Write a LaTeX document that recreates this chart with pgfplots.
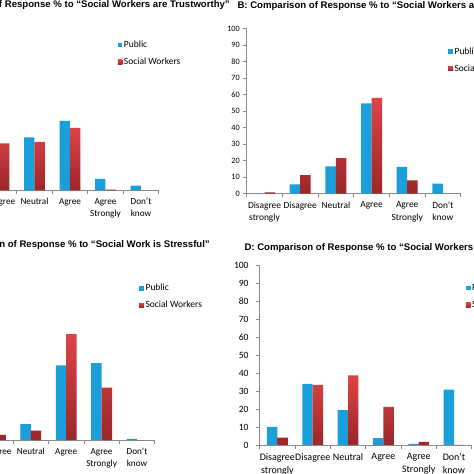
\documentclass[border=0pt]{standalone}
\usepackage{fontspec}
\setmainfont{Carlito}
\newfontfamily\titlefont{Liberation Sans}
\usepackage{pgfplots}
\pgfplotsset{compat=1.18}
\definecolor{pubblue}{HTML}{1B9FDA}
\definecolor{swtop}{HTML}{DE4446}
\definecolor{swbot}{HTML}{9C2628}
\definecolor{axisgray}{HTML}{8A8A8A}
\pgfplotsset{
  panel/.style={
    ybar, bar width=0.295,
    scale only axis,
    xmin=-0.5, xmax=5.5, ymin=0, ymax=100,
    axis x line*=bottom, axis y line*=left,
    axis line style={draw=axisgray, line width=0.7pt},
    xtick={0,...,5},
    xticklabels={Disagree\\strongly, Disagree, Neutral, Agree, Agree\\Strongly, Don’t\\know},
    major x tick style={draw=none},
    minor xtick={-0.5,0.5,...,5.5},
    minor x tick style={draw=axisgray, line width=0.7pt},
    minor tick length=3.5pt,
    major tick length=3.5pt,
    tick align=outside,
    ytick={0,10,...,100},
    y tick style={draw=axisgray, line width=0.7pt},
    x tick label style={align=center, anchor=north, inner sep=0pt, yshift=-4.5pt},
    y tick label style={anchor=east, inner sep=0pt, xshift=-3.2pt},
    /pgf/number format/assume math mode=true,
    legend image code/.code={\fill[##1] (0pt,-2.3pt) rectangle (4.6pt,2.3pt);},
    legend style={draw=none, fill=none, anchor=north west, inner sep=0pt,
      nodes={inner sep=0pt, anchor=west, text height=5pt, text depth=0pt},
      row sep=12pt, column sep=1.5pt},
    legend cell align=left,
  },
  pub/.style={draw=none, fill=pubblue, bar shift=-0.1475},
  sw/.style={draw=none, top color=swtop, bottom color=swbot, bar shift=0.1475},
}
\begin{document}
\begin{tikzpicture}[x=1pt,y=1pt]
\begin{scope}
\clip (0,0) rectangle (474,474);
% ---------------- A ----------------
\begin{axis}[panel, at={(-54.25pt,283.7pt)}, anchor=south west,
  width=213pt, height=165pt,
  x tick label style={font=\fontsize{9.2}{12}\selectfont},
  y tick label style={font=\fontsize{8.2}{10}\selectfont},
  legend style={at={(axis description cs:0.807,0.897)}, font=\fontsize{9.5}{11}\selectfont}]
\addplot[pub] coordinates {(0,4) (1,12.5) (2,32) (3,42) (4,6.9) (5,2.8)};
\addplot[sw] coordinates {(0,3) (1,28.5) (2,29.3) (3,37.9) (4,0.4) (5,0)};
\legend{Public, Social Workers}
\end{axis}
% ---------------- B ----------------
\begin{axis}[panel, at={(246.7pt,280.3pt)}, anchor=south west,
  width=214pt, height=165pt,
  x tick label style={font=\fontsize{9.4}{12.3}\selectfont},
  y tick label style={font=\fontsize{8.2}{10}\selectfont},
  legend style={at={(axis description cs:0.942,0.877)}, font=\fontsize{9.5}{11}\selectfont}]
\addplot[pub] coordinates {(0,0) (1,5.7) (2,16.6) (3,54.8) (4,16.2) (5,6.1)};
\addplot[sw] coordinates {(0,0.8) (1,11.3) (2,21.6) (3,58) (4,8.1) (5,0)};
\legend{Public, Social Workers}
\end{axis}
% ---------------- C ----------------
\begin{axis}[panel, at={(-57.7pt,34pt)}, anchor=south west,
  width=212.4pt, height=179pt,
  x tick label style={font=\fontsize{9.2}{12}\selectfont},
  y tick label style={font=\fontsize{9.5}{11}\selectfont},
  legend style={at={(axis description cs:0.9275,0.862)}, font=\fontsize{9.5}{11}\selectfont}]
\addplot[pub] coordinates {(0,1.5) (1,4.4) (2,8.8) (3,41.7) (4,43) (5,0.6)};
\addplot[sw] coordinates {(0,0.8) (1,2.8) (2,5.2) (3,59.2) (4,29.2) (5,0)};
\legend{Public, Social Workers}
\end{axis}
% ---------------- D ----------------
\begin{axis}[panel, at={(259.7pt,29pt)}, anchor=south west,
  width=212pt, height=179.3pt,
  x tick label style={font=\fontsize{10}{13}\selectfont},
  y tick label style={font=\fontsize{9.6}{11}\selectfont, xshift=-4.2pt},
  legend style={at={(axis description cs:0.972,0.891)}, font=\fontsize{9.5}{11}\selectfont}]
\addplot[pub] coordinates {(0,10.1) (1,34.1) (2,19.5) (3,3.9) (4,0.6) (5,30.9)};
\addplot[sw] coordinates {(0,4.1) (1,33.5) (2,38.8) (3,21.2) (4,1.7) (5,0)};
\legend{Public, Social Workers}
\end{axis}
% ---------------- titles ----------------
\node[anchor=base east, inner sep=0pt, font=\titlefont\bfseries\fontsize{9.6}{11}\selectfont] at (230,466) {A: Comparison of Response \% to “Social Workers are Trustworthy”};
\node[anchor=base west, inner sep=0pt, font=\titlefont\bfseries\fontsize{9.6}{11}\selectfont] at (237.3,465.5) {B: Comparison of Response \% to “Social Workers are Respected”};
\node[anchor=base east, inner sep=0pt, font=\titlefont\bfseries\fontsize{9.6}{11}\selectfont] at (210,226) {C: Comparison of Response \% to “Social Work is Stressful”};
\node[anchor=base west, inner sep=0pt, font=\titlefont\bfseries\fontsize{9.6}{11}\selectfont] at (244.3,223) {D: Comparison of Response \% to “Social Workers are Overworked”};
\end{scope}
\pgfresetboundingbox
\useasboundingbox (0,0) rectangle (474,474);
\end{tikzpicture}
\end{document}
